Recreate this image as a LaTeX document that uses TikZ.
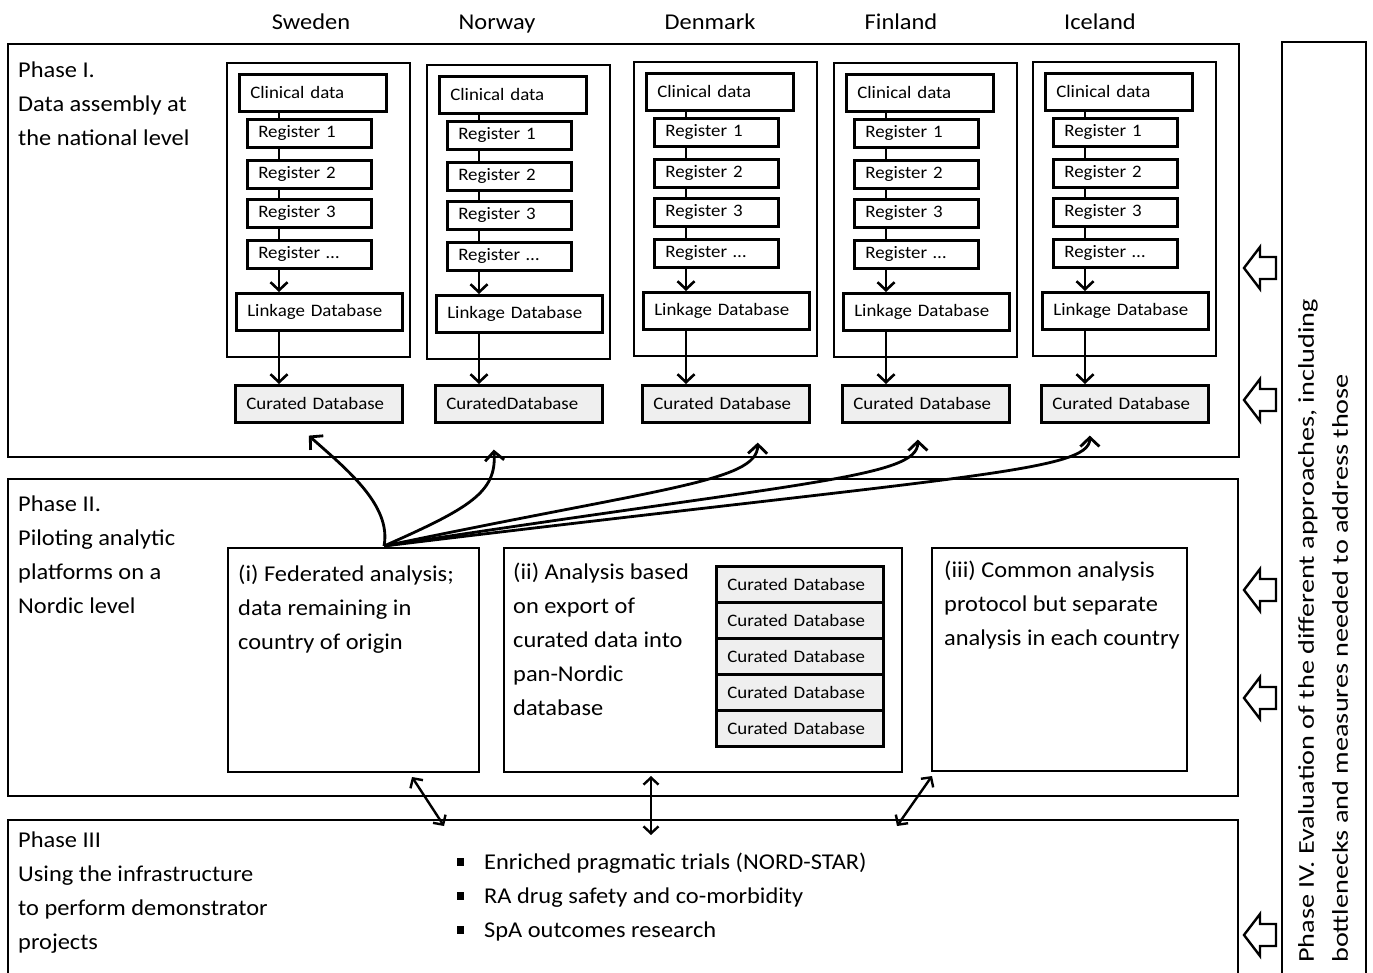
\documentclass[tikz,border=0pt]{standalone}
\usepackage{fontspec}
\setmainfont{Carlito}[FakeStretch=1.08]
\newfontfamily\pivfont{Carlito}[FakeStretch=1.25]
\usetikzlibrary{arrows.meta,calc}
\definecolor{curfill}{HTML}{EFEFEF}
\begin{document}
\begin{tikzpicture}[x=1pt,y=-1pt,
  phase/.style={draw, line width=2pt},
  colbox/.style={draw, line width=2.6pt},
  ibox/.style={draw, line width=2.6pt, fill=white, anchor=north west, inner xsep=11pt, inner ysep=0pt, align=left, font=\fontsize{17.5}{21}\selectfont},
  cl/.style={ibox, text width=125pt, minimum height=37pt},
  rg/.style={ibox, text width=102pt, minimum height=28pt},
  lk/.style={ibox, text width=144pt, minimum height=37pt},
  cu/.style={ibox, fill=curfill, text width=145pt, minimum height=37pt},
  stk/.style={ibox, fill=curfill, text width=145pt, minimum height=36pt},
  ptext/.style={font=\fontsize{22.6}{34}\selectfont, align=left, inner sep=0pt, anchor=north west},
  ctry/.style={font=\fontsize{22.6}{34}\selectfont, inner sep=0pt, anchor=base},
  seg/.style={line width=2.6pt},
  conn/.style={line width=2.6pt, -{Straight Barb[length=8pt,width=17pt]}},
  fed/.style={line width=2.8pt, -{Straight Barb[length=9pt,width=19pt]}},
  dconn/.style={line width=2.4pt, {Straight Barb[length=7pt,width=15pt]}-{Straight Barb[length=7pt,width=15pt]}},
  hollow/.style={draw, line width=2.4pt, fill=white, line join=miter}
]
\useasboundingbox (0,0) rectangle (1373,973);
\fill[white] (0,0) rectangle (1373,973);

% phase frames
\draw[phase] (8,44) rectangle (1239,457);
\draw[phase] (8,479) rectangle (1238,796);
\draw[phase] (8,990) -- (8,820) -- (1238,820) -- (1238,990);
\draw[phase] (1282,990) -- (1282,42) -- (1366,42) -- (1366,990);

% phase labels
\node[ptext] (p1t) at (18,62) {Phase I.\\Data assembly at\\the national level};
\node[ptext] (p2t) at (18,496) {Phase II.\\Piloting analytic\\platforms on a\\Nordic level};
\node[ptext] (p3t) at (18,832) {Phase III\\Using the infrastructure\\to perform demonstrator\\projects};

% country columns
\foreach \n/\dx/\dy/\lx/\lab/\cur in {
  sw/227/63/311/Sweden/Curated Database,
  no/427/65/497/Norway/CuratedDatabase,
  dk/634/62/710/Denmark/Curated Database,
  fi/834/63/901/Finland/Curated Database,
  is/1033/62/1100/Iceland/Curated Database}{
  \node[ctry] (\n-lab) at (\lx,30) {\lab};
  \draw[colbox] (\dx,\dy) rectangle ++(183,294);
  \coordinate (\n-v) at (\dx+52,0);
  \node[cl] (\n-cl) at (\dx+11,\dy+10) {Clinical data};
  \node[rg] (\n-r1) at (\dx+19,\dy+55) {Register 1};
  \node[rg] (\n-r2) at (\dx+19,\dy+96) {Register 2};
  \node[rg] (\n-r3) at (\dx+19,\dy+135) {Register 3};
  \node[rg] (\n-r4) at (\dx+19,\dy+176) {Register …};
  \node[lk] (\n-lk) at (\dx+8,\dy+229) {Linkage Database};
  \node[cu] (\n-cu) at (\dx+7,384) {\cur};
  \draw[seg] (\n-cl.south -| \n-v) -- (\n-r1.north -| \n-v);
  \draw[seg] (\n-r1.south -| \n-v) -- (\n-r2.north -| \n-v);
  \draw[seg] (\n-r2.south -| \n-v) -- (\n-r3.north -| \n-v);
  \draw[seg] (\n-r3.south -| \n-v) -- (\n-r4.north -| \n-v);
  \draw[conn] (\n-r4.south -| \n-v) -- (\n-lk.north -| \n-v);
  \draw[conn] (\n-lk.south -| \n-v) -- (\n-cu.north -| \n-v);
}

% phase II boxes
\node[draw, line width=2pt, anchor=north west, minimum width=251pt, minimum height=224pt, inner sep=0pt] (fa) at (227,547) {};
\node[draw, line width=2pt, anchor=north west, minimum width=398pt, minimum height=224pt, inner sep=0pt] (ea) at (503,547) {};
\node[draw, line width=2pt, anchor=north west, minimum width=255pt, minimum height=223pt, inner sep=0pt] (ca) at (931,547) {};
\node[ptext] (fa-t) at (238,565) {(i) Federated analysis;\\data remaining in\\country of origin};
\node[ptext] (ea-t) at (513,563) {(ii) Analysis based\\on export of\\curated data into\\pan-Nordic\\database};
\node[ptext] (ca-t) at (944,561) {(iii) Common analysis\\protocol but separate\\analysis in each country};
\foreach \i/\y in {1/565,2/601,3/637,4/673,5/709}{
  \node[stk] (st\i) at (715,\y) {Curated Database};
}

% federated arrows
\coordinate (fs) at (384,546);
\coordinate (tsw) at ($(sw-cu.south)+(-10,12)$);
\coordinate (tno) at ($(no-cu.south)+(-25,26)$);
\coordinate (tdk) at ($(dk-cu.south)+(32,19)$);
\coordinate (tfi) at ($(fi-cu.south)+(-8,16)$);
\coordinate (tis) at ($(is-cu.south)+(-35,12)$);
\draw[fed] (fs) .. controls (392,505) and (345,468) .. (tsw);
\draw[fed] (fs) .. controls (470,508) and (497,492) .. (tno);
\draw[fed] (fs) .. controls (660,488) and (757,482) .. (tdk);
\draw[fed] (fs) .. controls (800,482) and (918,478) .. (tfi);
\draw[fed] (fs) .. controls (960,476) and (1090,472) .. (tis);

% phase II <-> phase III
\coordinate (d1a) at (412,777);
\coordinate (d1b) at (444,826);
\coordinate (d2a) at (651,776);
\coordinate (d2b) at (651,835);
\coordinate (d3a) at (932,776);
\coordinate (d3b) at (897,826);
\draw[dconn] (d1a) -- (d1b);
\draw[dconn] (d2a) -- (d2b);
\draw[dconn] (d3a) -- (d3b);

% phase III projects
\node[ptext] (proj) at (457,853) {\rule[4pt]{7pt}{8pt}\hspace{20pt}Enriched pragmatic trials (NORD-STAR)\\
\rule[4pt]{7pt}{8pt}\hspace{20pt}RA drug safety and co-morbidity\\
\rule[4pt]{7pt}{8pt}\hspace{20pt}SpA outcomes research};

% phase IV
\node[ptext, font=\pivfont\fontsize{22.6}{34}\selectfont, rotate=90] (p4t) at (1298,963) {Phase IV. Evaluation of the different approaches, including\\bottlenecks and measures needed to address those};
\foreach \c in {268,400,590,698,935}{
  \draw[hollow] (1244,\c) -- (1260,\c-21) -- (1260,\c-11) -- (1276,\c-11) -- (1276,\c+11) -- (1260,\c+11) -- (1260,\c+21) -- cycle;
}
\end{tikzpicture}
\end{document}
